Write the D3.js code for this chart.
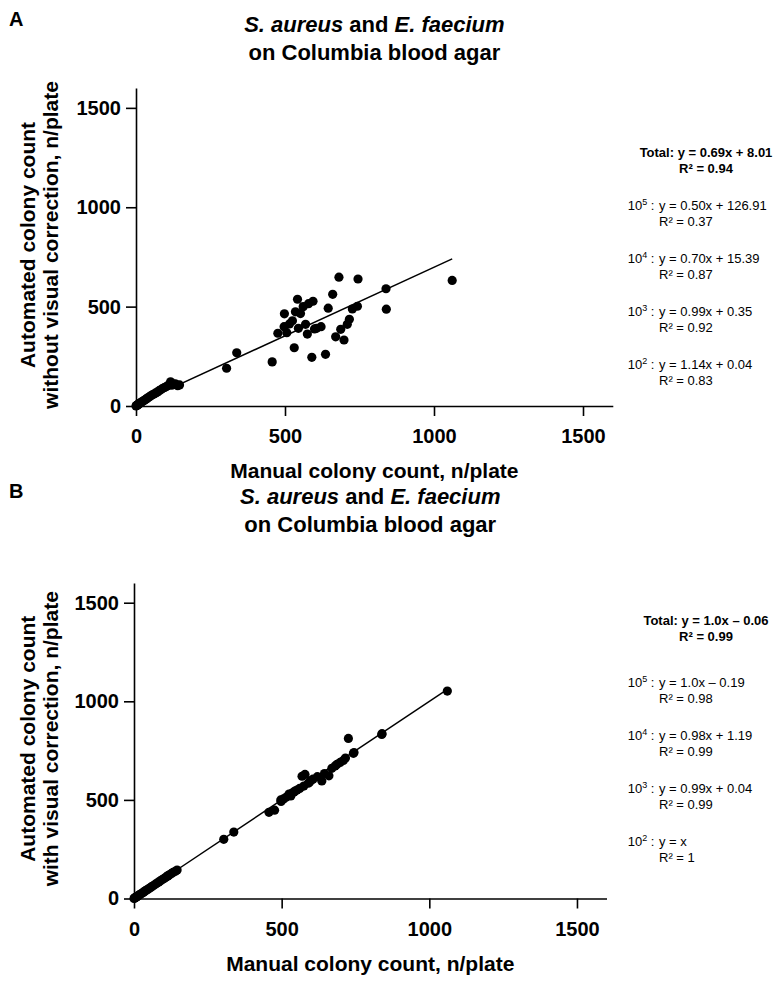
<!DOCTYPE html>
<html><head><meta charset="utf-8">
<script src="https://cdn.jsdelivr.net/npm/d3@7"></script>
<style>
body{margin:0;background:#fff;}
svg{font-family:Arial,"Liberation Sans",Helvetica,sans-serif;}
</style></head>
<body><svg id="c" width="780" height="985"></svg>
<script>
// ---- data ----
const tickValues = [0, 500, 1000, 1500];
// manual colony counts (same plates in both panels)
const manual = [0,2,3,5,6,8,10,12,14,17,20,24,28,32,36,40,45,50,55,60,66,72,78,84,90,96,102,108,114,116,120,126,132,140,146,
  304,338,457,476,498,497,506,515,525,531,535,542,545,552,561,569,575,579,590,594,599,606,621,636,645,660,670,681,687,698,709,716,726,743,745,839,840,1061];
// automated counts without visual correction (panel A)
const autoRaw = [0,2,3,5,7,8,11,13,15,18,21,25,29,33,37,41,46,51,56,60,66,71,77,83,89,93,98,104,110,122,105,110,112,102,106,
  190,268,222,366,464,399,369,413,429,293,474,537,391,465,500,411,362,515,245,527,388,391,399,260,492,562,348,648,386,332,411,436,488,502,639,590,487,632];
// automated counts with visual correction (panel B)
const autoCorr = [0,2,3,5,6,8,10,12,14,17,20,24,28,32,36,40,45,50,55,60,66,72,78,84,90,96,102,108,114,116,120,126,132,138,144,
  300,337,437,448,492,500,505,513,530,520,535,540,545,550,558,620,570,629,585,590,598,605,618,596,634,622,660,672,680,690,700,712,812,736,740,832,836,1052];
// regression lines (slope, intercept) for the totals
const fitA = [0.69, 8.01];
const fitB = [1.0, -0.06];
// legend text lines
const legendA = [
  {lab:"Total:", eq:"y = 0.69x + 8.01", r2:"R² = 0.94", bold:true},
  {exp:"5", eq:"y = 0.50x + 126.91", r2:"R² = 0.37"},
  {exp:"4", eq:"y = 0.70x + 15.39", r2:"R² = 0.87"},
  {exp:"3", eq:"y = 0.99x + 0.35", r2:"R² = 0.92"},
  {exp:"2", eq:"y = 1.14x + 0.04", r2:"R² = 0.83"}
];
const legendB = [
  {lab:"Total:", eq:"y = 1.0x – 0.06", r2:"R² = 0.99", bold:true},
  {exp:"5", eq:"y = 1.0x – 0.19", r2:"R² = 0.98"},
  {exp:"4", eq:"y = 0.98x + 1.19", r2:"R² = 0.99"},
  {exp:"3", eq:"y = 0.99x + 0.04", r2:"R² = 0.99"},
  {exp:"2", eq:"y = x", r2:"R² = 1"}
];

const svg = d3.select("#c");

function panel(cfg){
  const g = svg.append("g");
  const x = d3.scaleLinear().domain([0,1600]).range(cfg.xr);
  const y = d3.scaleLinear().domain([0,1600]).range(cfg.yr);
  const cx = (cfg.xr[0]+cfg.xr[1])/2;

  // panel letter
  g.append("text").attr("x",9).attr("y",cfg.top+16).attr("font-size",20).attr("font-weight","bold").text(cfg.letter);
  // title
  const t1 = g.append("text").attr("x",cx).attr("y",cfg.top+22).attr("text-anchor","middle")
    .attr("font-size",22).attr("font-weight","bold");
  t1.append("tspan").attr("font-style","italic").text("S. aureus");
  t1.append("tspan").text(" and ");
  t1.append("tspan").attr("font-style","italic").text("E. faecium");
  g.append("text").attr("x",cx).attr("y",cfg.top+50).attr("text-anchor","middle")
    .attr("font-size",22).attr("font-weight","bold").text("on Columbia blood agar");

  // axes
  const ax = g.append("g").attr("transform",`translate(0,${cfg.yr[0]})`)
    .call(d3.axisBottom(x).tickValues(tickValues).tickSize(10).tickSizeOuter(0).tickPadding(13).tickFormat(d3.format("d")));
  const ay = g.append("g").attr("transform",`translate(${cfg.xr[0]},0)`)
    .call(d3.axisLeft(y).tickValues(tickValues).tickSize(10).tickSizeOuter(0).tickPadding(5).tickFormat(d3.format("d")));
  [ax,ay].forEach(a=>{
    a.selectAll("path,line").attr("stroke","#000").attr("stroke-width",1.6);
    a.selectAll("text").attr("font-size",20).attr("font-weight","bold").attr("fill","#000").attr("font-family",null);
  });

  // axis titles
  g.append("text").attr("x",cx).attr("y",cfg.yr[0]+72).attr("text-anchor","middle")
    .attr("font-size",21).attr("font-weight","bold").text("Manual colony count, n/plate");
  const cy = (cfg.yr[0]+cfg.yr[1])/2 - 2;
  g.append("text").attr("transform",`translate(35,${cy}) rotate(-90)`).attr("text-anchor","middle")
    .attr("font-size",21).attr("font-weight","bold").text("Automated colony count");
  g.append("text").attr("transform",`translate(58,${cy}) rotate(-90)`).attr("text-anchor","middle")
    .attr("font-size",21).attr("font-weight","bold").text(cfg.ylab);

  // fit line
  const xmax = d3.max(manual);
  g.append("line").attr("x1",x(0)).attr("y1",y(cfg.fit[1]>0?cfg.fit[1]:0))
    .attr("x2",x(xmax)).attr("y2",y(cfg.fit[0]*xmax+cfg.fit[1]))
    .attr("stroke","#000").attr("stroke-width",1.5);

  // points
  g.selectAll("circle.pt").data(manual.map((m,i)=>[m,cfg.vals[i]])).join("circle")
    .attr("class","pt").attr("cx",d=>x(d[0])).attr("cy",d=>y(d[1])).attr("r",4.6).attr("fill","#000");

  // legend
  const lx = 659, lc = 706;
  cfg.legend.forEach((d,i)=>{
    const yy = cfg.legY[i];
    if(d.bold){
      g.append("text").attr("x",lc).attr("y",yy).attr("text-anchor","middle").attr("font-size",13)
        .attr("font-weight","bold").text(d.lab+" "+d.eq);
      g.append("text").attr("x",lc).attr("y",yy+16).attr("text-anchor","middle").attr("font-size",13)
        .attr("font-weight","bold").text(d.r2);
    } else {
      const t = g.append("text").attr("x",lx-1).attr("y",yy).attr("text-anchor","end").attr("font-size",13);
      t.append("tspan").text("10");
      t.append("tspan").attr("dy",-5).attr("font-size",9).text(d.exp);
      t.append("tspan").attr("dy",5).text("\u00a0:\u00a0");
      g.append("text").attr("x",lx).attr("y",yy).attr("font-size",13).text(d.eq);
      g.append("text").attr("x",lx).attr("y",yy+16).attr("font-size",13).text(d.r2);
    }
  });
}

panel({letter:"A", top:10, xr:[136,612.8], yr:[406,88], vals:autoRaw, fit:fitA,
  ylab:"without visual correction, n/plate", legend:legendA, legY:[157,210,263,316,369]});
panel({letter:"B", top:482, xr:[134,606.5], yr:[898.5,583], vals:autoCorr, fit:fitB,
  ylab:"with visual correction, n/plate", legend:legendB, legY:[625,687,740,793,846]});
</script></body></html>
